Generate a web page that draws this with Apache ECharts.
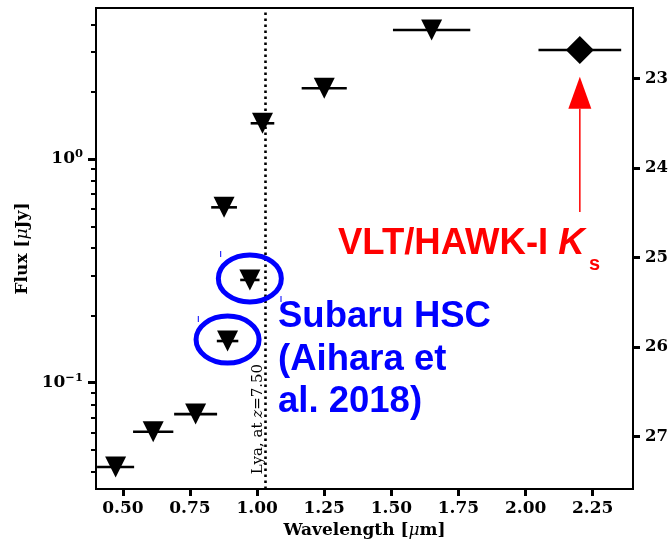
<!DOCTYPE html>
<html>
<head>
<meta charset="utf-8">
<script src="https://cdn.jsdelivr.net/npm/echarts@6/dist/echarts.min.js"></script>
<style>
  html, body { margin: 0; padding: 0; background: #fff; }
  #chart { width: 668px; height: 540px; }
</style>
</head>
<body>
<div id="chart"></div>
<script>
// Upper limits per band: central wavelength (µm), half bandwidth (µm), flux (µJy)
const limitWavelength = [0.473, 0.613, 0.771, 0.877, 0.890, 0.973, 1.020, 1.250, 1.650];
const limitHalfWidth  = [0.069, 0.075, 0.080, 0.048, 0.040, 0.036, 0.044, 0.084, 0.144];
const limitFlux       = [0.042, 0.0604, 0.0724, 0.608, 0.1536, 0.288, 1.444, 2.07, 3.77];

// Subaru HSC bands singled out with ellipses
const hscWavelength = [0.890, 0.973];
const hscFlux       = [0.1536, 0.288];

// VLT/HAWK-I Ks detection
const ksWavelength = [2.202];
const ksHalfWidth  = [0.154];
const ksFlux       = [3.07];

// Lyman-alpha break at z = 7.50
const lyaRedshift = 7.50;
const lyaWavelength = 0.121567 * (1 + lyaRedshift);

// Ks arrow, in data units (from flux -> to flux)
const arrowFlux = [0.58, 2.33];

// Axis ranges and ticks
const xRange = [0.4, 2.4];
const fluxRange = [0.0335, 4.73];
const xTicks = [0.50, 0.75, 1.00, 1.25, 1.50, 1.75, 2.00, 2.25];
const fluxMajorTicks = [0.1, 1];
const fluxMinorTicks = [0.04, 0.05, 0.06, 0.07, 0.08, 0.09,
                        0.2, 0.3, 0.4, 0.5, 0.6, 0.7, 0.8, 0.9, 2, 3, 4];
const magTicks = [23, 24, 25, 26, 27];

// AB magnitude for a flux in µJy
const abMag = f => 23.9 - 2.5 * Math.log10(f);

const SERIF = '"DejaVu Serif", serif';
const SANS = '"Liberation Sans", Arial, sans-serif';
const BLUE = '#0000ff';
const RED = '#ff0000';

const logRange = fluxRange.map(Math.log10);

const tickLabelStyle = { color: '#000', fontFamily: SERIF, fontWeight: 'bold', fontSize: 17 };

function errorBars(xs, hw, ys) {
  return {
    type: 'custom',
    xAxisIndex: 0,
    yAxisIndex: 0,
    silent: true,
    z: 3,
    data: xs.map((x, i) => [x - hw[i], x + hw[i], ys[i]]),
    encode: { x: [0, 1], y: 2 },
    renderItem: (params, api) => {
      const a = api.coord([api.value(0), api.value(2)]);
      const b = api.coord([api.value(1), api.value(2)]);
      return {
        type: 'line',
        shape: { x1: a[0], y1: a[1], x2: b[0], y2: b[1] },
        style: { stroke: '#000', lineWidth: 2.6 }
      };
    }
  };
}

const chart = echarts.init(document.getElementById('chart'), null, { renderer: 'canvas' });

const option = {
  animation: false,
  backgroundColor: '#fff',
  grid: {
    left: 96, right: 35, top: 8, bottom: 51,
    outerBoundsMode: 'none',
    containLabel: false,
    show: true, borderColor: '#000', borderWidth: 2, backgroundColor: 'transparent'
  },
  xAxis: [{
    type: 'value',
    min: xRange[0], max: xRange[1],
    axisLine: { show: false, onZero: false },
    splitLine: { show: false },
    axisTick: { show: true, customValues: xTicks, length: 7, lineStyle: { color: '#000', width: 3 } },
    axisLabel: {
      customValues: xTicks, margin: 11, ...tickLabelStyle,
      formatter: v => v.toFixed(2)
    },
    name: '{b|Wavelength [}{i|μ}{b|m]}',
    nameLocation: 'middle',
    nameGap: 30,
    nameTextStyle: {
      rich: {
        b: { fontFamily: SERIF, fontWeight: 'bold', fontSize: 17, color: '#000' },
        i: { fontFamily: SERIF, fontStyle: 'italic', fontSize: 17, color: '#000' }
      }
    }
  }],
  yAxis: [
    {
      // flux scale used by the data
      type: 'log', logBase: 10,
      min: fluxRange[0], max: fluxRange[1],
      position: 'left',
      axisLine: { show: false, onZero: false },
      axisTick: { show: false },
      axisLabel: { show: false },
      splitLine: { show: false }
    },
    {
      // decade ticks and labels (log10 of flux)
      type: 'value',
      min: logRange[0], max: logRange[1],
      position: 'left',
      axisLine: { show: false, onZero: false },
      splitLine: { show: false },
      axisTick: {
        show: true, customValues: fluxMajorTicks.map(Math.log10), length: 8,
        lineStyle: { color: '#000', width: 3 }
      },
      axisLabel: {
        customValues: fluxMajorTicks.map(Math.log10), margin: 13,
        formatter: v => {
          const p = Math.round(v);
          return '{b|10}{s|' + (p < 0 ? '−' + (-p) : p) + '}';
        },
        rich: {
          b: { fontFamily: SERIF, fontWeight: 'bold', fontSize: 17, lineHeight: 22, color: '#000' },
          s: { fontFamily: SERIF, fontWeight: 'bold', fontSize: 11.5, lineHeight: 12, verticalAlign: 'top', color: '#000' }
        }
      },
      name: '{b|Flux [}{i|μ}{b|Jy]}',
      nameLocation: 'middle',
      nameGap: 63,
      nameRotate: 90,
      nameTextStyle: {
        rich: {
          b: { fontFamily: SERIF, fontWeight: 'bold', fontSize: 17, color: '#000' },
          i: { fontFamily: SERIF, fontStyle: 'italic', fontSize: 17, color: '#000' }
        }
      }
    },
    {
      // minor ticks between decades
      type: 'value',
      min: logRange[0], max: logRange[1],
      position: 'left',
      axisLine: { show: false, onZero: false },
      splitLine: { show: false },
      axisLabel: { show: false },
      axisTick: {
        show: true, customValues: fluxMinorTicks.map(Math.log10), length: 5,
        lineStyle: { color: '#000', width: 2 }
      }
    },
    {
      // AB magnitude on the right
      type: 'value',
      inverse: true,
      min: abMag(fluxRange[1]), max: abMag(fluxRange[0]),
      position: 'right',
      axisLine: { show: false, onZero: false },
      splitLine: { show: false },
      axisTick: { show: true, customValues: magTicks, length: 7, lineStyle: { color: '#000', width: 3 } },
      axisLabel: { customValues: magTicks, margin: 12, ...tickLabelStyle, fontSize: 16.5 }
    }
  ],
  series: [
    errorBars(limitWavelength, limitHalfWidth, limitFlux),
    errorBars(ksWavelength, ksHalfWidth, ksFlux),
    {
      type: 'scatter',
      xAxisIndex: 0, yAxisIndex: 0,
      silent: true,
      z: 4,
      symbol: 'triangle',
      symbolRotate: 180,
      symbolSize: 21,
      itemStyle: { color: '#000', opacity: 1 },
      data: limitWavelength.map((x, i) => [x, limitFlux[i]]),
      markLine: {
        silent: true,
        symbol: 'none',
        label: { show: false },
        lineStyle: { color: '#000', width: 2.6, type: [2.6, 3.4] },
        data: [{ xAxis: lyaWavelength }]
      }
    },
    {
      type: 'scatter',
      xAxisIndex: 0, yAxisIndex: 0,
      silent: true,
      z: 4,
      symbol: 'diamond',
      symbolSize: 28,
      itemStyle: { color: '#000', opacity: 1 },
      data: ksWavelength.map((x, i) => [x, ksFlux[i]])
    },
    {
      type: 'custom',
      xAxisIndex: 0, yAxisIndex: 0,
      silent: true,
      z: 5,
      data: hscWavelength.map((x, i) => [x, hscFlux[i]]),
      renderItem: (params, api) => {
        const c = api.coord([api.value(0), api.value(1)]);
        return {
          type: 'ellipse',
          shape: { cx: c[0], cy: c[1] - 1.5, rx: 31.5, ry: 23.5 },
          style: { fill: 'none', stroke: BLUE, lineWidth: 5 }
        };
      }
    }
  ]
};

chart.setOption(option);

// Annotations: Ks arrow, labels, Lyα caption
const tail = chart.convertToPixel({ xAxisIndex: 0, yAxisIndex: 0 }, [ksWavelength[0], arrowFlux[0]]);
const tip = chart.convertToPixel({ xAxisIndex: 0, yAxisIndex: 0 }, [ksWavelength[0], arrowFlux[1]]);
const headLen = 32, headHalf = 11.5;

chart.setOption({
  graphic: [
    {
      type: 'line', silent: true, z: 10,
      shape: { x1: tail[0], y1: tail[1], x2: tip[0], y2: tip[1] + headLen },
      style: { stroke: RED, lineWidth: 1.5 }
    },
    {
      type: 'polygon', silent: true, z: 10,
      shape: { points: [[tip[0], tip[1]], [tip[0] - headHalf, tip[1] + headLen], [tip[0] + headHalf, tip[1] + headLen]] },
      style: { fill: RED }
    },
    {
      type: 'text', silent: true, z: 10,
      x: 338, y: 243.5,
      style: {
        text: '{n|VLT/HAWK-I }{k|K}',
        verticalAlign: 'middle',
        rich: {
          n: { fontFamily: SANS, fontWeight: 'bold', fontSize: 36.5, fill: RED },
          k: { fontFamily: SANS, fontWeight: 'bold', fontStyle: 'italic', fontSize: 36.5, fill: RED }
        }
      }
    },
    {
      type: 'text', silent: true, z: 10,
      x: 589, y: 264,
      style: {
        text: 's', fontFamily: SANS, fontWeight: 'bold', fontSize: 20,
        fill: RED, verticalAlign: 'middle'
      }
    },
    {
      type: 'text', silent: true, z: 10,
      x: 278, y: 296,
      style: {
        text: 'Subaru HSC\n(Aihara et\nal. 2018)',
        fontFamily: SANS, fontWeight: 'bold', fontSize: 36.5, lineHeight: 42.5,
        fill: BLUE, verticalAlign: 'top'
      }
    },
    {
      type: 'text', silent: true, z: 10,
      x: 258.5, y: 419, rotation: Math.PI / 2,
      style: {
        text: '{r|Lya, at }{i|z}{r|=7.50}',
        align: 'center', verticalAlign: 'middle',
        rich: {
          r: { fontFamily: SERIF, fontSize: 15, fill: '#000' },
          i: { fontFamily: SERIF, fontStyle: 'italic', fontSize: 15, fill: '#000' }
        }
      }
    },
    { type: 'line', silent: true, z: 10, shape: { x1: 220.7, y1: 251, x2: 220.7, y2: 257 }, style: { stroke: BLUE, lineWidth: 1 } },
    { type: 'line', silent: true, z: 10, shape: { x1: 198.3, y1: 316, x2: 198.3, y2: 322 }, style: { stroke: BLUE, lineWidth: 1 } },
    { type: 'line', silent: true, z: 10, shape: { x1: 281, y1: 296, x2: 281, y2: 302 }, style: { stroke: BLUE, lineWidth: 1 } }
  ]
});
</script>
</body>
</html>
